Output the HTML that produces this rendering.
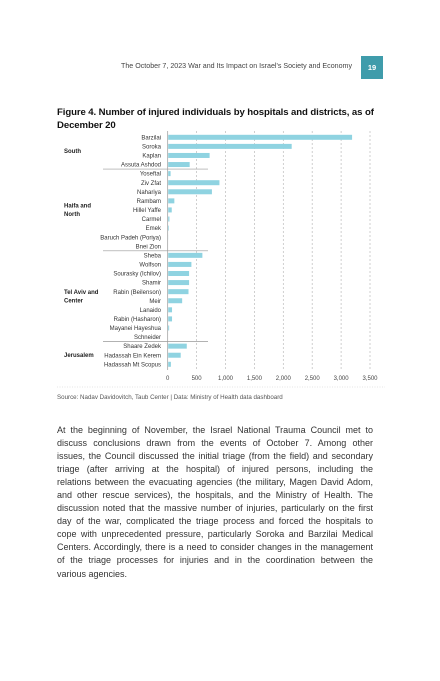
<!DOCTYPE html>
<html><head><meta charset="utf-8"><style>
body{margin:0;background:#fff;width:440px;height:681px;position:relative;overflow:hidden;font-family:"Liberation Sans",sans-serif;}
.hdr{position:absolute;right:88px;top:62px;font-size:7.1px;color:#444;}
.pg{position:absolute;left:361px;top:56px;width:22px;height:23px;background:#3f9cab;color:#fff;font-size:7.5px;font-weight:bold;text-align:center;line-height:23px;}
.title{position:absolute;left:57px;top:106px;width:330px;font-size:9.6px;font-weight:bold;line-height:13px;color:#111;letter-spacing:-0.1px;}
.body{position:absolute;left:57px;top:424px;width:316px;font-size:9px;line-height:13.06px;color:#333;}
.body span{display:block;white-space:nowrap;text-align:justify;text-align-last:justify;height:13.06px;}
.body span.last{text-align-last:left;}
</style></head><body>
<div class="hdr">The October 7, 2023 War and Its Impact on Israel's Society and Economy</div>
<div class="pg">19</div>
<div class="title">Figure 4. Number of injured individuals by hospitals and districts, as of<br>December 20</div>
<svg id="chart" width="440" height="410" style="position:absolute;left:0;top:0" font-family="Liberation Sans, sans-serif"></svg>
<div class="body">
<span>At the beginning of November, the Israel National Trauma Council met to</span>
<span>discuss conclusions drawn from the events of October 7. Among other</span>
<span>issues, the Council discussed the initial triage (from the field) and secondary</span>
<span>triage (after arriving at the hospital) of injured persons, including the</span>
<span>relations between the evacuating agencies (the military, Magen David Adom,</span>
<span>and other rescue services), the hospitals, and the Ministry of Health. The</span>
<span>discussion noted that the massive number of injuries, particularly on the first</span>
<span>day of the war, complicated the triage process and forced the hospitals to</span>
<span>cope with unprecedented pressure, particularly Soroka and Barzilai Medical</span>
<span>Centers. Accordingly, there is a need to consider changes in the management</span>
<span>of the triage processes for injuries and in the coordination between the</span>
<span class="last">various agencies.</span>
</div>
<script>
const hospitals=["Barzilai","Soroka","Kaplan","Assuta Ashdod","Yoseftal","Ziv Zfat","Nahariya","Rambam","Hillel Yaffe","Carmel","Emek","Baruch Padeh (Poriya)","Bnei Zion","Sheba","Wolfson","Sourasky (Ichilov)","Shamir","Rabin (Beilenson)","Meir","Lanaido","Rabin (Hasharon)","Mayanei Hayeshua","Schneider","Shaare Zedek","Hadassah Ein Kerem","Hadassah Mt Scopus"];
const injured=[3190,2145,725,380,50,895,765,115,70,30,20,10,5,600,410,370,370,360,250,75,75,25,5,330,225,55];
const districts=["South","Haifa and|North","Tel Aviv  and|Center","Jerusalem"];
const districtStart=[0,4,13,23];
const districtEnd=[3,12,22,25];
const ticks=[0,500,1000,1500,2000,2500,3000,3500];
const tickLabels=["0","500","1,000","1,500","2,000","2,500","3,000","3,500"];
const svg=document.getElementById('chart');const NS='http://www.w3.org/2000/svg';
const x0=167.7,xs=202.3/3500,y0=137.3,pitch=9.08;
const X=v=>x0+v*xs, Y=i=>y0+i*pitch;
function mk(t,a,p){const e=document.createElementNS(NS,t);for(const k in a)e.setAttribute(k,a[k]);(p||svg).appendChild(e);return e;}
ticks.forEach((t,i)=>{
 if(i>0){const g=mk('line',{x1:X(t),x2:X(t),y1:131,y2:370,stroke:'#bbb','stroke-width':0.7,'stroke-dasharray':'2,2'});
 
 }
 const l=mk('text',{x:X(t),y:380,'font-size':6,'text-anchor':'middle',fill:'#444'});l.textContent=tickLabels[i];
 
 
});
const ax=mk('line',{x1:x0,x2:x0,y1:131,y2:370,stroke:'#999','stroke-width':0.7});


hospitals.forEach((h,i)=>{
 const b=mk('rect',{x:x0+0.5,y:Y(i)-2.5,width:Math.max(0,X(injured[i])-x0-0.5),height:5,fill:'#8fd3e1'});
 
 
 const t=mk('text',{x:161,y:Y(i)+2.1,'font-size':6,'text-anchor':'end',fill:'#333'});t.textContent=h;
 
 
});
districts.forEach((d,k)=>{
 const mid=(Y(districtStart[k])+Y(districtEnd[k]))/2;const parts=d.split('|');
 parts.forEach((p,j)=>{const t=mk('text',{x:64,y:mid+2+(j-(parts.length-1)/2)*8.5,'font-size':6,'font-weight':'bold',fill:'#222'});t.textContent=p;
 
 });
 if(k>0){const s=mk('line',{x1:103,x2:208,y1:Y(districtStart[k])-pitch/2,y2:Y(districtStart[k])-pitch/2,stroke:'#999','stroke-width':0.7});
 
 }
});
const sep=mk('line',{x1:57,x2:385,y1:387,y2:387,stroke:'#ccc','stroke-width':0.6,'stroke-dasharray':'1,1.5'});


const src=mk('text',{x:57,y:399,'font-size':6.2,fill:'#555'});src.textContent='Source: Nadav Davidovitch, Taub Center | Data: Ministry of Health data dashboard';


</script>
</body></html>
